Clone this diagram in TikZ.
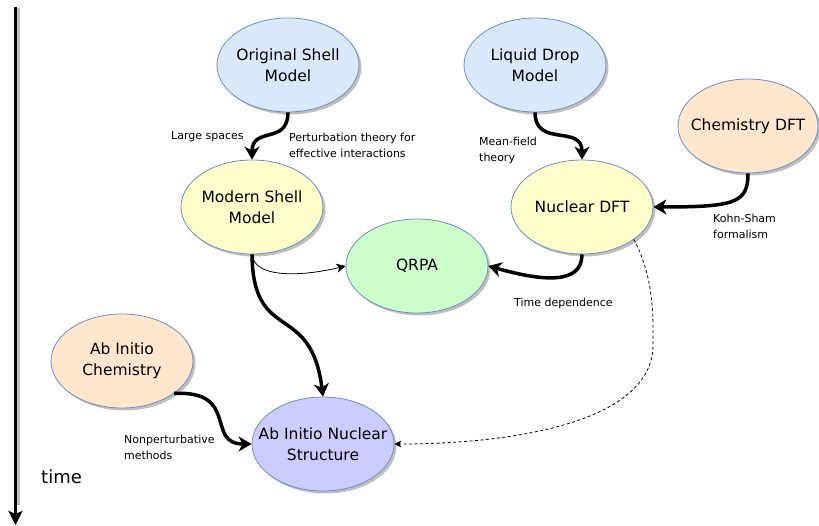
\documentclass[tikz,border=0pt]{standalone}
\usepackage{fontspec}
\setmainfont{DejaVu Sans}
\usetikzlibrary{shapes.geometric,arrows.meta,shadows}

\definecolor{edgeblue}{HTML}{6C8EBF}
\definecolor{fillblue}{HTML}{DAE8FC}
\definecolor{fillyellow}{HTML}{FFFFCC}
\definecolor{fillpeach}{HTML}{FFE6CC}
\definecolor{fillgreen}{HTML}{CCFFCC}
\definecolor{fillpurple}{HTML}{CCCCFF}

\tikzset{
  topic/.style={ellipse, draw=edgeblue, line width=0.8pt,
    minimum width=142pt, minimum height=94pt, inner xsep=-16pt, inner ysep=0pt,
    align=center, font=\fontsize{15.5}{21}\selectfont,
    drop shadow={shadow xshift=2.5pt, shadow yshift=-2.5pt, fill=black, opacity=0.25}},
  lbl/.style={font=\fontsize{11}{16}\selectfont, align=left, inner sep=0pt},
  strong/.style={line width=3.5pt, -{Stealth[length=13pt,width=15pt,inset=4pt]}},
  weak/.style={line width=0.8pt, -{Stealth[length=9pt,width=9pt,inset=2.5pt]}},
  hint/.style={line width=0.8pt, dashed, dash pattern=on 3pt off 2.5pt,
    -{Stealth[length=7pt,width=7pt,inset=2pt]}}
}

\begin{document}
\begin{tikzpicture}[x=1pt,y=-1pt]
\useasboundingbox (0,0) rectangle (819,526);

% time axis
\draw[line width=3pt, draw=black!25] (18,8) -- (18,505);
\draw[line width=3pt, -{Stealth[length=14pt,width=14pt,inset=3pt]}] (15.5,7) -- (15.5,525);
\node[anchor=base west, inner sep=0pt, font=\fontsize{18}{20}\selectfont] (timelbl) at (41,483) {time};

% topics
\node[topic, fill=fillblue]   (osm)   at (288,65)  {Original Shell\\Model};
\node[topic, fill=fillblue]   (ldm)   at (535,65)  {Liquid Drop\\Model};
\node[topic, fill=fillpeach, minimum width=140pt]  (cdft)  at (748,126) {Chemistry DFT};
\node[topic, fill=fillyellow] (msm)   at (252,207) {Modern Shell\\Model};
\node[topic, fill=fillyellow] (ndft)  at (582,207) {Nuclear DFT};
\node[topic, fill=fillgreen]  (qrpa)  at (417,266) {QRPA};
\node[topic, fill=fillpeach]  (achem) at (122,361) {Ab Initio\\Chemistry};
\node[topic, fill=fillpurple] (ains)  at (323,444) {Ab Initio Nuclear\\Structure};

% connectors
\draw[strong] (osm.south) .. controls (288,145) and (252,126) .. (msm.north);
\draw[strong] (ldm.south) .. controls (535,148) and (582,124) .. (ndft.north);
\draw[strong] (cdft.south) .. controls (748,203) and (735,207) .. (ndft.east);
\draw[strong] (ndft.south) .. controls (582,284) and (545,282) .. (qrpa.east);
\draw[weak]   (msm.south) .. controls (254,278) and (300,277) .. (qrpa.west);
\draw[strong] (msm.south) .. controls (253,345) and (311,300) .. (ains.north);
\draw[strong] (achem.-32) .. controls (240,390) and (205,444) .. (ains.west);
\draw[hint]   (ndft.-32) .. controls (655,280) and (653,320) .. (653,345)
                          .. controls (653,420) and (520,444) .. (ains.east);

% connector labels (base anchor sits on the last line)
\node[lbl, anchor=base west] (l1) at (171,140) {Large spaces};
\node[lbl, anchor=base west] (l2) at (289,158) {Perturbation theory for\\effective interactions};
\node[lbl, anchor=base west] (l3) at (479,162) {Mean-field\\theory};
\node[lbl, anchor=base west] (l4) at (713,239) {Kohn-Sham\\formalism};
\node[lbl, anchor=base west] (l5) at (514,307) {Time dependence};
\node[lbl, anchor=base west] (l6) at (124,459) {Nonperturbative\\methods};
\end{tikzpicture}
\end{document}
